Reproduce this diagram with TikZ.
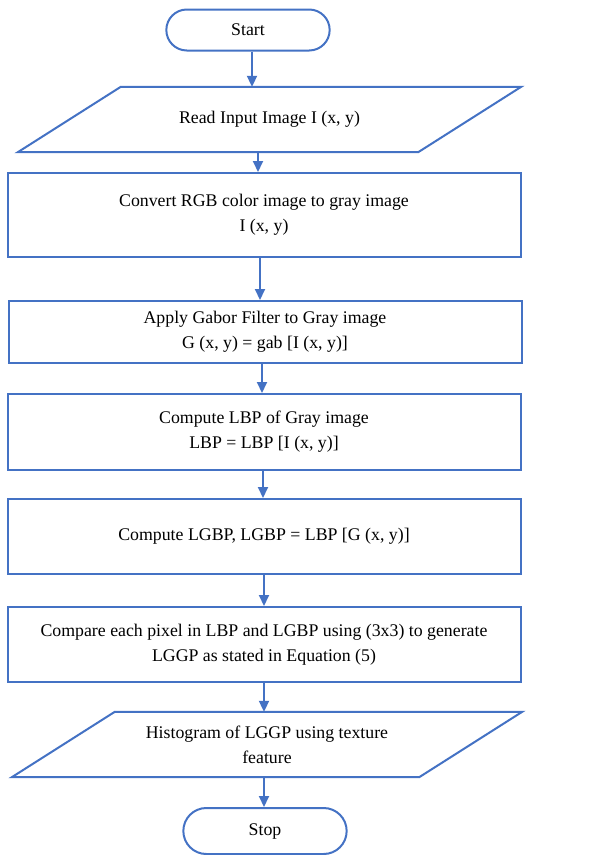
\documentclass[tikz,border=0pt]{standalone}
\usepackage{fontspec}
\setmainfont{Liberation Serif}
\usetikzlibrary{shapes.misc,arrows.meta}
\definecolor{flowblue}{RGB}{68,114,196}
\begin{document}
\begin{tikzpicture}[x=1pt,y=1pt,
        font=\fontsize{17.8}{25}\selectfont,
        border/.style={draw=flowblue, line width=2pt},
        term/.style={border, rounded rectangle, minimum width=170pt, minimum height=#1},
        io/.style={rectangle, minimum width=#1, minimum height=65pt, align=center, inner sep=0pt},
        proc/.style={border, rectangle, minimum width=513pt, minimum height=#1, align=center, inner sep=0pt},
        flow/.style={border, -{Triangle[length=11pt,width=10pt]}}]
        \useasboundingbox (0,0) rectangle (605,-855);
        \node[term=41pt] (start) at (248,-30) {Start};
        \node[io=400pt] (read) at (269.5,-119.5) {Read Input Image I (x, y)};
        \node[proc=84pt] (convert) at (264,-215) {Convert RGB color image to gray image\\I (x, y)};
        \node[proc=62pt] (gabor) at (265,-332) {Apply Gabor Filter to Gray image\\G (x, y) = gab [I (x, y)]};
        \node[proc=76pt] (lbp) at (264,-432) {Compute LBP of Gray image\\LBP = LBP [I (x, y)]};
        \node[proc=75pt] (lgbp) at (264,-536.5) {Compute LGBP, LGBP = LBP [G (x, y)]};
        \node[proc=75pt] (compare) at (264,-644.5) {Compare each pixel in LBP and LGBP using (3x3) to generate\\LGGP as stated in Equation (5)};
        \node[io=407pt] (hist) at (267,-744.5) {Histogram of LGGP using texture\\feature};
        \node[term=46pt] (stop) at (265,-831) {Stop};
        \foreach \n in {read,hist}
            {
                \draw[border] ([xshift=-51.5pt]\n.south west) -- ([xshift=51.5pt]\n.north west)
                    -- ([xshift=51.5pt]\n.north east) -- ([xshift=-51.5pt]\n.south east) -- cycle;
            }
        \foreach \a/\b/\x in {start/read/252, read/convert/258, convert/gabor/260, gabor/lbp/262,
            lbp/lgbp/263, lgbp/compare/264, compare/hist/264, hist/stop/264}
            {
                \draw[flow] (\x,0 |- \a.south) -- (\x,0 |- \b.north);
            }
    \end{tikzpicture}
\end{document}
